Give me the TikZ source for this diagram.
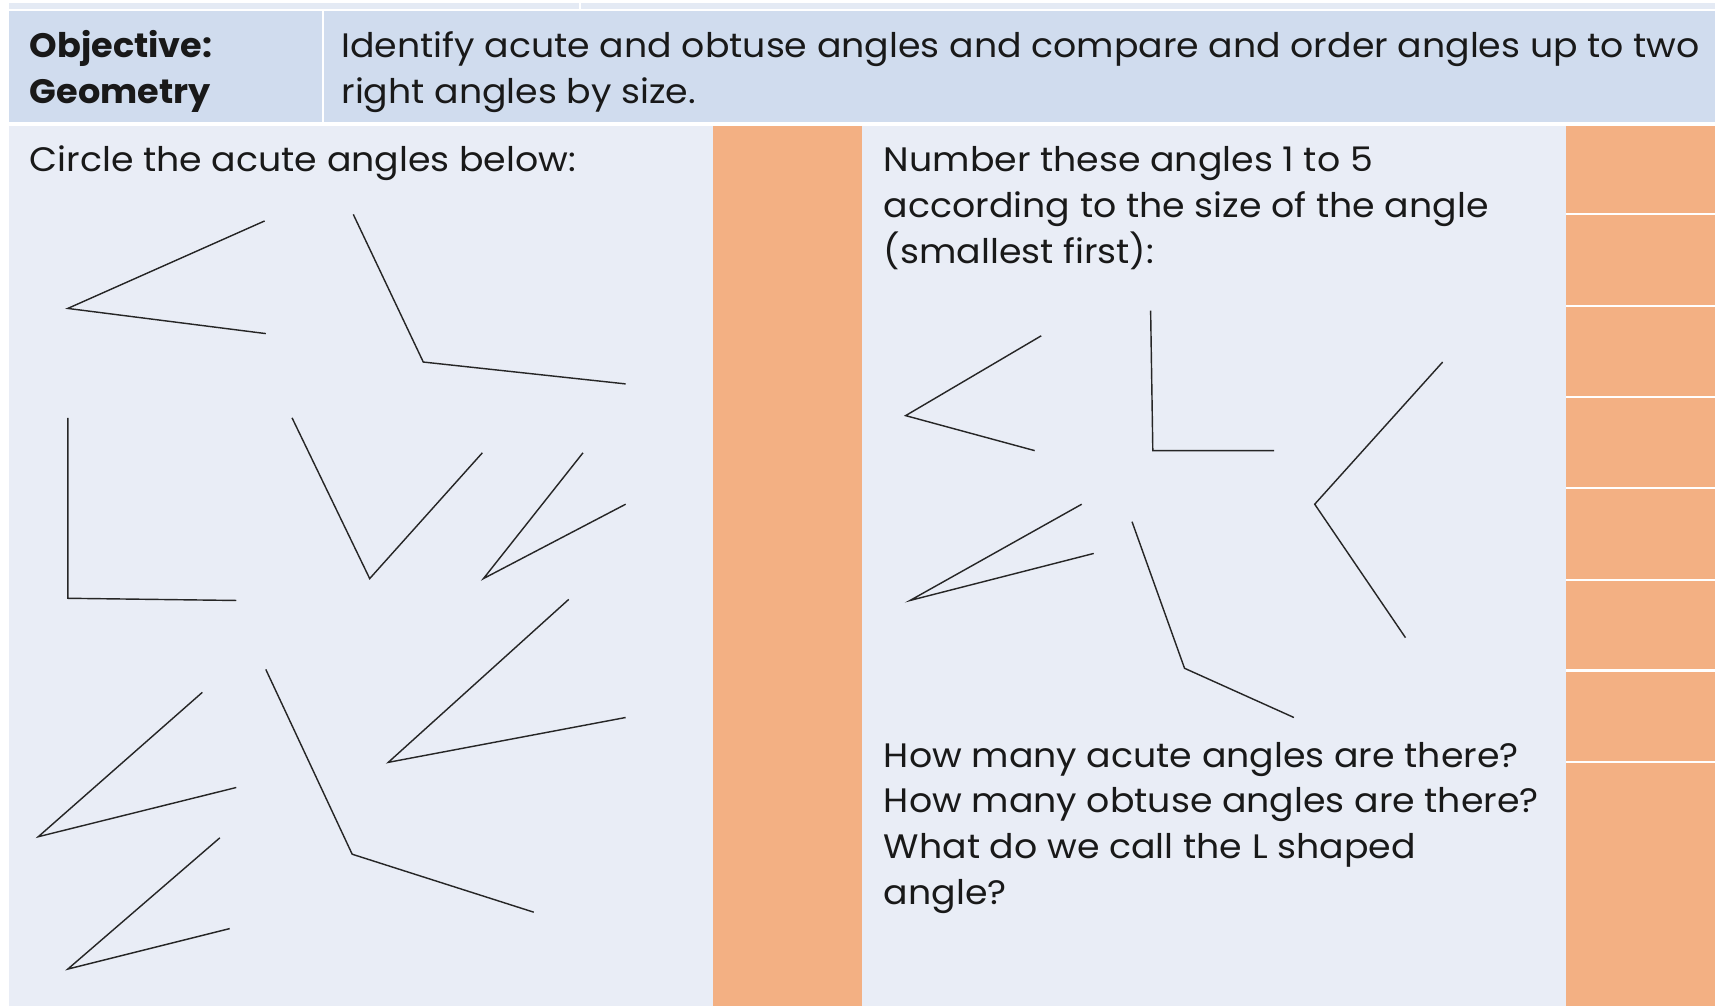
\documentclass[tikz,border=0pt]{standalone}
\usepackage{fontspec}
\setmainfont{Poppins}
\newfontfamily\regf{Poppins}[FakeStretch=1.07]
\newfontfamily\boldf{Poppins}[FakeStretch=1.035]
\definecolor{topc}{HTML}{E4EAF4}
\definecolor{hdr}{HTML}{D0DCEE}
\definecolor{bodyc}{HTML}{E9EDF6}
\definecolor{orng}{HTML}{F3B083}
\tikzset{
  txt/.style={anchor=base west, inner sep=0pt, font=\regf\fontsize{31}{42}\selectfont, text=black!90},
  btxt/.style={anchor=base west, inner sep=0pt, font=\boldf\fontsize{31}{42}\selectfont\bfseries, text=black!90},
  ang/.style={draw=black!85, line width=1.3pt, line join=miter},
  sep/.style={draw=white, line width=2pt}
}
\begin{document}
\begin{tikzpicture}[x=1pt,y=-1pt]
\useasboundingbox (0,0) rectangle (1568,920);
\fill[white] (0,0) rectangle (1568,920);
% top strip
\fill[topc] (8,3) rectangle (1568,8);
\draw[sep] (530,0) -- (530,9);
% header
\fill[hdr] (8,10) rectangle (1568,112);
\draw[sep] (295,10) -- (295,112);
% body
\fill[bodyc] (8,115) rectangle (1568,920);
\fill[orng] (652,115) rectangle (788,920);
\fill[orng] (1432,115) rectangle (1568,920);
\foreach \yy in {196,280,363,446,530,613,697} \draw[sep] (1432,\yy) -- (1568,\yy);
% header text
\node[btxt] (obj) at (27,53) {Objective:};
\node[btxt] (geo) at (27,95) {Geometry};
\node[txt] (id1) at (312,53) {Identify acute and obtuse angles and compare and order angles up to two};
\node[txt] (id2) at (312,95) {right angles by size.};
% left panel
\node[txt] (circ) at (27,157) {Circle the acute angles below:};
\draw[ang] (242,202) -- (62,282) -- (243,305);
\draw[ang] (323,196) -- (387,331) -- (572,351);
\draw[ang] (62,382) -- (62,547) -- (216,549);
\draw[ang] (267,382) -- (338,529) -- (441,414);
\draw[ang] (533,414) -- (442,529) -- (572,461);
\draw[ang] (185,633) -- (35,765) -- (216,720);
\draw[ang] (520,548) -- (355,697) -- (572,656);
\draw[ang] (243,612) -- (322,781) -- (488,834);
\draw[ang] (201,766) -- (62,886) -- (210,849);
% right panel
\node[txt] (n1) at (808,157) {Number these angles 1 to 5};
\node[txt] (n2) at (808,199) {according to the size of the angle};
\node[txt] (n3) at (808,241) {(smallest first):};
\draw[ang] (952,307) -- (828,380) -- (946,412);
\draw[ang] (1052,284) -- (1054,412) -- (1165,412);
\draw[ang] (1319,331) -- (1202,461) -- (1285,583);
\draw[ang] (989,461) -- (832,549) -- (1000,506);
\draw[ang] (1035,477) -- (1083,611) -- (1183,656);
\node[txt] (q1) at (808,702) {How many acute angles are there?};
\node[txt] (q2) at (808,743) {How many obtuse angles are there?};
\node[txt] (q3) at (808,785) {What do we call the L shaped};
\node[txt] (q4) at (808,827) {angle?};
\end{tikzpicture}
\end{document}
